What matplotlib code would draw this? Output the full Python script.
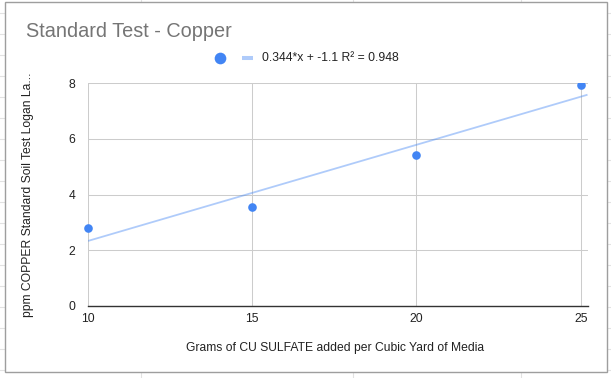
import numpy as np
import matplotlib
matplotlib.use("Agg")
import matplotlib.pyplot as plt
from matplotlib.lines import Line2D
from matplotlib.patches import Rectangle

# ---- data ----
x_vals = [10, 15, 20, 25]
y_vals = [2.81, 3.54, 5.42, 7.94]
x_ticks = [10, 15, 20, 25]
y_ticks = [0, 2, 4, 6, 8]
title = "Standard Test - Copper"
trend_label = "0.344*x + -1.1 R² = 0.948"
x_label = "Grams of CU SULFATE added per Cubic Yard of Media"
y_label = "ppm COPPER Standard Soil Test Logan La..."

plt.rcParams['font.family'] = ['Liberation Sans', 'DejaVu Sans']

W, H = 611, 378
fig = plt.figure(figsize=(W / 100, H / 100), dpi=100)
fig.patch.set_facecolor('white')

def fx(px):
    return px / W

def fy(py):
    return 1 - py / H

FS = 8.7

# spreadsheet background grid
grid_c = '#e2e2e2'
for k in range(-3, 15):
    yy = 75.7 + 21 * k
    if 0 <= yy <= H:
        fig.add_artist(Line2D([0, 1], [fy(yy), fy(yy)], color=grid_c, lw=0.8, zorder=-3))
for xx in [141, 353, 521]:
    fig.add_artist(Line2D([fx(xx), fx(xx)], [0, 1], color=grid_c, lw=0.8, zorder=-3))

# chart card
fig.add_artist(Rectangle((fx(5.3), fy(371.7)), fx(606.7) - fx(5.3), fy(2) - fy(371.7),
                         facecolor='white', edgecolor='#9e9e9e', lw=1.0, zorder=-2))

# axes
left, right = 88 / W, 587.5 / W
bottom, top = fy(306), fy(83.3)
ax = fig.add_axes([left, bottom, right - left, top - bottom])
ax.set_facecolor('none')
xmax = 10 + (587.5 - 88) / ((580.7 - 88) / 15)
ax.set_xlim(10, xmax)
ax.set_ylim(0, 8)
ax.set_xticks(x_ticks)
ax.set_yticks(y_ticks)
ax.grid(True, color='#cccccc', lw=0.75)
ax.set_axisbelow(True)
for s in ['top', 'right', 'left']:
    ax.spines[s].set_visible(False)
ax.spines['bottom'].set_color('#333333')
ax.spines['bottom'].set_linewidth(1.0)
ax.spines['bottom'].set_zorder(2.5)
ax.tick_params(axis='both', length=0, labelsize=FS, labelcolor='#222222')
ax.tick_params(axis='x', pad=5)
ax.tick_params(axis='y', pad=9)

blue = '#4285F4'
# trendline
coef = np.polyfit(x_vals, y_vals, 1)
xl = np.array([10, xmax])
ax.plot(xl, np.polyval(coef, xl), color=blue, alpha=0.42, lw=1.3, zorder=2, solid_capstyle='butt')
# points (clipped only at the top, like the reference)
pts, = ax.plot(x_vals, y_vals, 'o', color=blue, ms=6.2, mec='none', zorder=3)
clip = Rectangle((-0.05, -0.05), 1.1, 1.05, transform=ax.transAxes, facecolor='none', edgecolor='none')
ax.add_patch(clip)
pts.set_clip_path(clip)

# title
fig.text(fx(26), fy(36.7), title, fontsize=14.3, color='#757575', ha='left', va='baseline')

# legend
fig.add_artist(Line2D([fx(220)], [fy(58.3)], marker='o', ms=8.4, color=blue, mec='none', ls='none'))
fig.add_artist(Line2D([fx(241.7), fx(253.3)], [fy(58.3), fy(58.3)], color=blue, alpha=0.42, lw=2.9,
                      solid_capstyle='butt'))
fig.text(fx(262.3), fy(58.3), trend_label, fontsize=FS, color='#222222', ha='left', va='center')

# axis labels
fig.text(fx(334.7), fy(348.3), x_label, fontsize=FS, color='#222222', ha='center', va='center')
fig.text(fx(28.3), fy(194.5), y_label, fontsize=FS, color='#222222', ha='center', va='center', rotation=90)

fig.savefig('out.png', dpi=100, facecolor='white')
